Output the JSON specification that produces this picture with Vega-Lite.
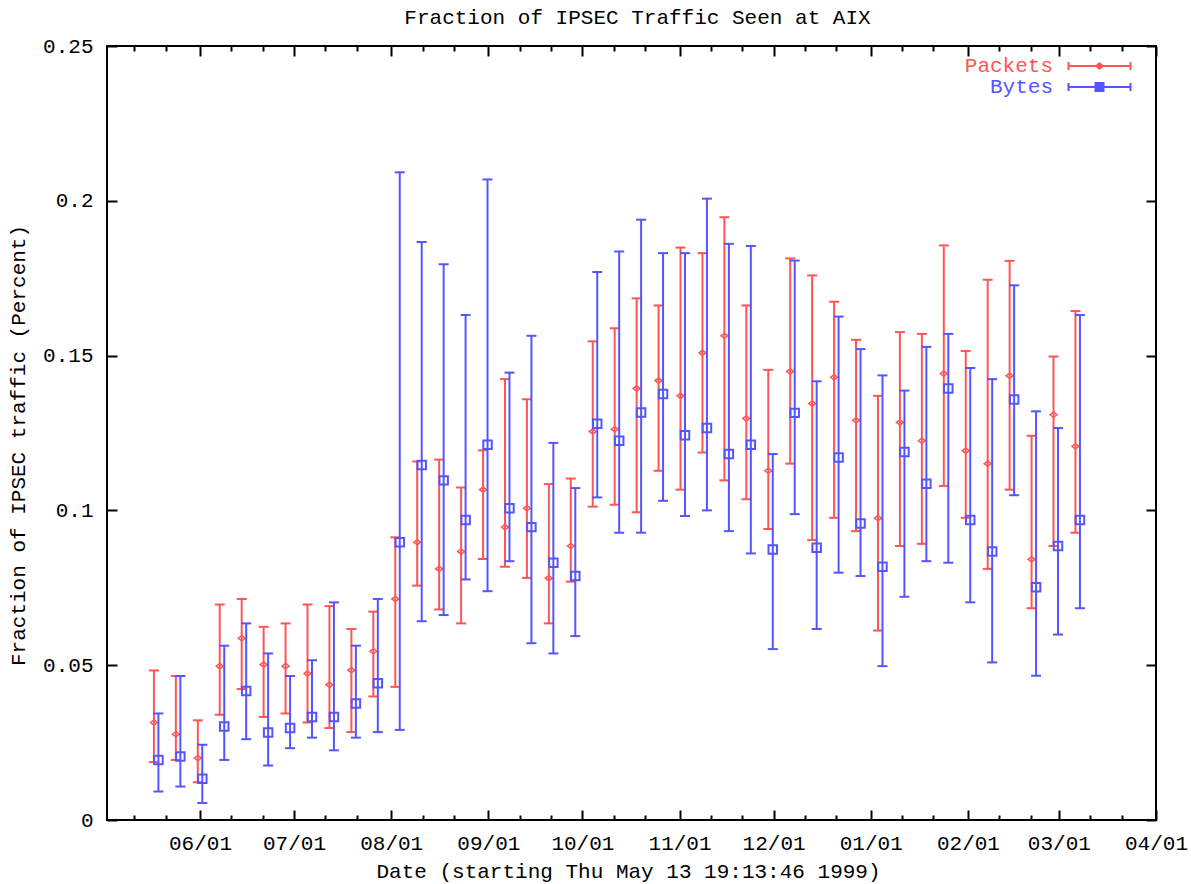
{
  "$schema": "https://vega.github.io/schema/vega-lite/v6.json",
  "width": 1049,
  "height": 774,
  "autosize": {"type": "none"},
  "padding": {"left": 107, "top": 46, "right": 35, "bottom": 64},
  "background": "white",
  "title": {
    "text": "Fraction of IPSEC Traffic Seen at AIX",
    "anchor": "middle",
    "frame": "group",
    "offset": 24,
    "baseline": "alphabetic",
    "dx": 6,
    "dy": 34
  },
  "config": {
    "font": "Liberation Mono",
    "view": {"stroke": "black", "strokeWidth": 2},
    "axis": {
      "domain": false,
      "grid": false,
      "tickColor": "black",
      "tickWidth": 2,
      "labelFont": "Liberation Mono",
      "labelFontSize": 21,
      "labelColor": "black",
      "titleFont": "Liberation Mono",
      "titleFontSize": 21,
      "titleFontWeight": "normal",
      "titleColor": "black"
    },
    "title": {"font": "Liberation Mono", "fontSize": 21, "fontWeight": "normal", "color": "black"}
  },
  "data": {
    "values": [
      {"week": "1999-05-17T07:13", "series": "Packets", "value": 0.0315, "lo": 0.0187, "hi": 0.0483},
      {"week": "1999-05-24T07:13", "series": "Packets", "value": 0.0277, "lo": 0.0194, "hi": 0.0465},
      {"week": "1999-05-31T07:13", "series": "Packets", "value": 0.0200, "lo": 0.0122, "hi": 0.0322},
      {"week": "1999-06-07T07:13", "series": "Packets", "value": 0.0497, "lo": 0.0340, "hi": 0.0696},
      {"week": "1999-06-14T07:13", "series": "Packets", "value": 0.0587, "lo": 0.0423, "hi": 0.0714},
      {"week": "1999-06-21T07:13", "series": "Packets", "value": 0.0502, "lo": 0.0333, "hi": 0.0624},
      {"week": "1999-06-28T07:13", "series": "Packets", "value": 0.0497, "lo": 0.0344, "hi": 0.0635},
      {"week": "1999-07-05T07:13", "series": "Packets", "value": 0.0473, "lo": 0.0315, "hi": 0.0696},
      {"week": "1999-07-12T07:13", "series": "Packets", "value": 0.0437, "lo": 0.0297, "hi": 0.0691},
      {"week": "1999-07-19T07:13", "series": "Packets", "value": 0.0484, "lo": 0.0284, "hi": 0.0617},
      {"week": "1999-07-26T07:13", "series": "Packets", "value": 0.0545, "lo": 0.0399, "hi": 0.0673},
      {"week": "1999-08-02T07:13", "series": "Packets", "value": 0.0714, "lo": 0.0430, "hi": 0.0913},
      {"week": "1999-08-09T07:13", "series": "Packets", "value": 0.0897, "lo": 0.0757, "hi": 0.1158},
      {"week": "1999-08-16T07:13", "series": "Packets", "value": 0.0811, "lo": 0.0680, "hi": 0.1164},
      {"week": "1999-08-23T07:13", "series": "Packets", "value": 0.0867, "lo": 0.0635, "hi": 0.1074},
      {"week": "1999-08-30T07:13", "series": "Packets", "value": 0.1067, "lo": 0.0843, "hi": 0.1194},
      {"week": "1999-09-06T07:13", "series": "Packets", "value": 0.0946, "lo": 0.0818, "hi": 0.1424},
      {"week": "1999-09-13T07:13", "series": "Packets", "value": 0.1007, "lo": 0.0782, "hi": 0.1359},
      {"week": "1999-09-20T07:13", "series": "Packets", "value": 0.0781, "lo": 0.0635, "hi": 0.1085},
      {"week": "1999-09-27T07:13", "series": "Packets", "value": 0.0885, "lo": 0.0770, "hi": 0.1103},
      {"week": "1999-10-04T07:13", "series": "Packets", "value": 0.1255, "lo": 0.1012, "hi": 0.1546},
      {"week": "1999-10-11T07:13", "series": "Packets", "value": 0.1262, "lo": 0.1018, "hi": 0.1588},
      {"week": "1999-10-18T07:13", "series": "Packets", "value": 0.1394, "lo": 0.0994, "hi": 0.1685},
      {"week": "1999-10-25T07:13", "series": "Packets", "value": 0.1419, "lo": 0.1128, "hi": 0.1662},
      {"week": "1999-11-01T07:13", "series": "Packets", "value": 0.1370, "lo": 0.1067, "hi": 0.1849},
      {"week": "1999-11-08T07:13", "series": "Packets", "value": 0.1509, "lo": 0.1187, "hi": 0.1831},
      {"week": "1999-11-15T07:13", "series": "Packets", "value": 0.1564, "lo": 0.1097, "hi": 0.1947},
      {"week": "1999-11-22T07:13", "series": "Packets", "value": 0.1297, "lo": 0.1036, "hi": 0.1662},
      {"week": "1999-11-29T07:13", "series": "Packets", "value": 0.1128, "lo": 0.0940, "hi": 0.1454},
      {"week": "1999-12-06T07:13", "series": "Packets", "value": 0.1449, "lo": 0.1151, "hi": 0.1814},
      {"week": "1999-12-13T07:13", "series": "Packets", "value": 0.1345, "lo": 0.0904, "hi": 0.1759},
      {"week": "1999-12-20T07:13", "series": "Packets", "value": 0.1430, "lo": 0.0976, "hi": 0.1674},
      {"week": "1999-12-27T07:13", "series": "Packets", "value": 0.1291, "lo": 0.0933, "hi": 0.1551},
      {"week": "2000-01-03T07:13", "series": "Packets", "value": 0.0975, "lo": 0.0612, "hi": 0.1370},
      {"week": "2000-01-10T07:13", "series": "Packets", "value": 0.1284, "lo": 0.0885, "hi": 0.1576},
      {"week": "2000-01-17T07:13", "series": "Packets", "value": 0.1225, "lo": 0.0892, "hi": 0.1570},
      {"week": "2000-01-24T07:13", "series": "Packets", "value": 0.1442, "lo": 0.1079, "hi": 0.1856},
      {"week": "2000-01-31T07:13", "series": "Packets", "value": 0.1193, "lo": 0.0976, "hi": 0.1515},
      {"week": "2000-02-07T07:13", "series": "Packets", "value": 0.1151, "lo": 0.0811, "hi": 0.1745},
      {"week": "2000-02-14T07:13", "series": "Packets", "value": 0.1435, "lo": 0.1067, "hi": 0.1806},
      {"week": "2000-02-21T07:13", "series": "Packets", "value": 0.0842, "lo": 0.0684, "hi": 0.1241},
      {"week": "2000-02-28T07:13", "series": "Packets", "value": 0.1309, "lo": 0.0885, "hi": 0.1497},
      {"week": "2000-03-06T07:13", "series": "Packets", "value": 0.1207, "lo": 0.0928, "hi": 0.1644},
      {"week": "1999-05-17T07:13", "series": "Bytes", "value": 0.0194, "lo": 0.0092, "hi": 0.0344},
      {"week": "1999-05-24T07:13", "series": "Bytes", "value": 0.0205, "lo": 0.0108, "hi": 0.0465},
      {"week": "1999-05-31T07:13", "series": "Bytes", "value": 0.0133, "lo": 0.0055, "hi": 0.0243},
      {"week": "1999-06-07T07:13", "series": "Bytes", "value": 0.0302, "lo": 0.0194, "hi": 0.0563},
      {"week": "1999-06-14T07:13", "series": "Bytes", "value": 0.0417, "lo": 0.0261, "hi": 0.0635},
      {"week": "1999-06-21T07:13", "series": "Bytes", "value": 0.0283, "lo": 0.0176, "hi": 0.0538},
      {"week": "1999-06-28T07:13", "series": "Bytes", "value": 0.0297, "lo": 0.0232, "hi": 0.0465},
      {"week": "1999-07-05T07:13", "series": "Bytes", "value": 0.0333, "lo": 0.0266, "hi": 0.0516},
      {"week": "1999-07-12T07:13", "series": "Bytes", "value": 0.0333, "lo": 0.0225, "hi": 0.0703},
      {"week": "1999-07-19T07:13", "series": "Bytes", "value": 0.0376, "lo": 0.0266, "hi": 0.0563},
      {"week": "1999-07-26T07:13", "series": "Bytes", "value": 0.0442, "lo": 0.0284, "hi": 0.0714},
      {"week": "1999-08-02T07:13", "series": "Bytes", "value": 0.0897, "lo": 0.0291, "hi": 0.2092},
      {"week": "1999-08-09T07:13", "series": "Bytes", "value": 0.1147, "lo": 0.0642, "hi": 0.1867},
      {"week": "1999-08-16T07:13", "series": "Bytes", "value": 0.1097, "lo": 0.0662, "hi": 0.1795},
      {"week": "1999-08-23T07:13", "series": "Bytes", "value": 0.0969, "lo": 0.0777, "hi": 0.1631},
      {"week": "1999-08-30T07:13", "series": "Bytes", "value": 0.1212, "lo": 0.0739, "hi": 0.2069},
      {"week": "1999-09-06T07:13", "series": "Bytes", "value": 0.1007, "lo": 0.0836, "hi": 0.1445},
      {"week": "1999-09-13T07:13", "series": "Bytes", "value": 0.0946, "lo": 0.0571, "hi": 0.1564},
      {"week": "1999-09-20T07:13", "series": "Bytes", "value": 0.0831, "lo": 0.0538, "hi": 0.1218},
      {"week": "1999-09-27T07:13", "series": "Bytes", "value": 0.0788, "lo": 0.0594, "hi": 0.1072},
      {"week": "1999-10-04T07:13", "series": "Bytes", "value": 0.1280, "lo": 0.1042, "hi": 0.1770},
      {"week": "1999-10-11T07:13", "series": "Bytes", "value": 0.1225, "lo": 0.0928, "hi": 0.1836},
      {"week": "1999-10-18T07:13", "series": "Bytes", "value": 0.1316, "lo": 0.0928, "hi": 0.1939},
      {"week": "1999-10-25T07:13", "series": "Bytes", "value": 0.1376, "lo": 0.1031, "hi": 0.1831},
      {"week": "1999-11-01T07:13", "series": "Bytes", "value": 0.1243, "lo": 0.0982, "hi": 0.1831},
      {"week": "1999-11-08T07:13", "series": "Bytes", "value": 0.1266, "lo": 0.1000, "hi": 0.2007},
      {"week": "1999-11-15T07:13", "series": "Bytes", "value": 0.1182, "lo": 0.0933, "hi": 0.1861},
      {"week": "1999-11-22T07:13", "series": "Bytes", "value": 0.1212, "lo": 0.0861, "hi": 0.1854},
      {"week": "1999-11-29T07:13", "series": "Bytes", "value": 0.0874, "lo": 0.0552, "hi": 0.1182},
      {"week": "1999-12-06T07:13", "series": "Bytes", "value": 0.1315, "lo": 0.0988, "hi": 0.1807},
      {"week": "1999-12-13T07:13", "series": "Bytes", "value": 0.0879, "lo": 0.0617, "hi": 0.1417},
      {"week": "1999-12-20T07:13", "series": "Bytes", "value": 0.1171, "lo": 0.0799, "hi": 0.1626},
      {"week": "1999-12-27T07:13", "series": "Bytes", "value": 0.0958, "lo": 0.0788, "hi": 0.1521},
      {"week": "2000-01-03T07:13", "series": "Bytes", "value": 0.0818, "lo": 0.0497, "hi": 0.1436},
      {"week": "2000-01-10T07:13", "series": "Bytes", "value": 0.1189, "lo": 0.0721, "hi": 0.1387},
      {"week": "2000-01-17T07:13", "series": "Bytes", "value": 0.1086, "lo": 0.0836, "hi": 0.1528},
      {"week": "2000-01-24T07:13", "series": "Bytes", "value": 0.1394, "lo": 0.0831, "hi": 0.1570},
      {"week": "2000-01-31T07:13", "series": "Bytes", "value": 0.0969, "lo": 0.0703, "hi": 0.1460},
      {"week": "2000-02-07T07:13", "series": "Bytes", "value": 0.0867, "lo": 0.0509, "hi": 0.1424},
      {"week": "2000-02-14T07:13", "series": "Bytes", "value": 0.1358, "lo": 0.1049, "hi": 0.1727},
      {"week": "2000-02-21T07:13", "series": "Bytes", "value": 0.0752, "lo": 0.0466, "hi": 0.1320},
      {"week": "2000-02-28T07:13", "series": "Bytes", "value": 0.0885, "lo": 0.0599, "hi": 0.1266},
      {"week": "2000-03-06T07:13", "series": "Bytes", "value": 0.0969, "lo": 0.0684, "hi": 0.1631}
    ]
  },
  "layer": [
    {
      "transform": [{"filter": "datum.series === 'Packets'"}],
      "mark": {"type": "rule", "strokeWidth": 2},
      "encoding": {
        "x": {
          "field": "week",
          "type": "temporal",
          "scale": {"domain": [{"year": 1999, "month": 5, "date": 2, "hours": 8}, {"year": 2000, "month": 4, "date": 1}]},
          "axis": {
            "orient": "bottom",
            "values": [
              {"year": 1999, "month": 6, "date": 1}, {"year": 1999, "month": 7, "date": 1},
              {"year": 1999, "month": 8, "date": 1}, {"year": 1999, "month": 9, "date": 1},
              {"year": 1999, "month": 10, "date": 1}, {"year": 1999, "month": 11, "date": 1},
              {"year": 1999, "month": 12, "date": 1}, {"year": 2000, "month": 1, "date": 1},
              {"year": 2000, "month": 2, "date": 1}, {"year": 2000, "month": 3, "date": 1},
              {"year": 2000, "month": 4, "date": 1}
            ],
            "format": "%m/%d",
            "tickSize": -10,
            "labelPadding": 22,
            "labelFlush": false,
            "labelOverlap": false,
            "title": "Date (starting Thu May 13 19:13:46 1999)",
            "titleX": 521,
            "titleY": 57,
            "titleBaseline": "alphabetic"
          }
        },
        "y": {
          "field": "lo",
          "type": "quantitative",
          "scale": {"domain": [0, 0.25], "nice": false},
          "axis": {
            "orient": "left",
            "values": [0, 0.05, 0.1, 0.15, 0.2, 0.25],
            "format": "~g",
            "tickSize": -10,
            "labelPadding": 24,
            "title": "Fraction of IPSEC traffic (Percent)",
            "titleAngle": 270,
            "titleX": -83,
            "titleY": 399,
            "titleAlign": "center",
            "titleBaseline": "alphabetic"
          }
        },
        "y2": {"field": "hi"},
        "color": {
          "field": "series",
          "type": "nominal",
          "scale": {"domain": ["Packets", "Bytes"], "range": ["#ff5555", "#5555ff"]},
          "legend": {
            "title": null,
            "orient": "none",
            "legendX": 982,
            "legendY": 9.5,
            "direction": "vertical",
            "padding": 0,
            "rowPadding": -3,
            "symbolSize": 100,
            "symbolStrokeWidth": 2,
            "labelFont": "Liberation Mono",
            "labelFontSize": 21,
            "labelAlign": "right",
            "labelOffset": -57,
            "labelLimit": 0,
            "encode": {
              "symbols": {
                "update": {
                  "shape": {"signal": "datum.value === 'Packets' ? 'M-6.2,0H-0.65M0.65,0H6.2M-6.2,-0.8V0.8M6.2,-0.8V0.8M0,-0.55L0.65,0L0,0.55L-0.65,0Z' : 'M-6.2,0H-0.8M0.8,0H6.2M-6.2,-0.8V0.8M6.2,-0.8V0.8M-0.8,-0.8H0.8V0.8H-0.8Z'"},
                  "fill": {"value": "transparent"},
                  "stroke": {"scale": "color", "field": "value"},
                  "strokeWidth": {"value": 2},
                  "opacity": {"value": 1}
                }
              },
              "labels": {
                "update": {"fill": {"scale": "color", "field": "value"}}
              }
            }
          }
        }
      }
    },
    {
      "transform": [{"filter": "datum.series === 'Packets'"}],
      "mark": {"type": "tick", "orient": "horizontal", "size": 10, "thickness": 2, "opacity": 1},
      "encoding": {
        "x": {
          "field": "week",
          "type": "temporal",
          "axis": {
            "orient": "bottom",
            "values": [
              {"year": 1999, "month": 5, "date": 11}, {"year": 1999, "month": 5, "date": 21},
              {"year": 1999, "month": 6, "date": 11}, {"year": 1999, "month": 6, "date": 21},
              {"year": 1999, "month": 7, "date": 11}, {"year": 1999, "month": 7, "date": 21},
              {"year": 1999, "month": 8, "date": 11}, {"year": 1999, "month": 8, "date": 21},
              {"year": 1999, "month": 9, "date": 11}, {"year": 1999, "month": 9, "date": 21},
              {"year": 1999, "month": 10, "date": 11}, {"year": 1999, "month": 10, "date": 21},
              {"year": 1999, "month": 11, "date": 11}, {"year": 1999, "month": 11, "date": 21},
              {"year": 1999, "month": 12, "date": 11}, {"year": 1999, "month": 12, "date": 21},
              {"year": 2000, "month": 1, "date": 11}, {"year": 2000, "month": 1, "date": 21},
              {"year": 2000, "month": 2, "date": 11}, {"year": 2000, "month": 2, "date": 21},
              {"year": 2000, "month": 3, "date": 11}, {"year": 2000, "month": 3, "date": 21}
            ],
            "tickSize": -5,
            "labels": false,
            "title": null
          }
        },
        "y": {
          "field": "lo",
          "type": "quantitative",
          "axis": {
            "orient": "right",
            "values": [0, 0.05, 0.1, 0.15, 0.2, 0.25],
            "tickSize": -10,
            "labels": false,
            "title": null
          }
        },
        "color": {"field": "series", "type": "nominal"}
      }
    },
    {
      "transform": [{"filter": "datum.series === 'Packets'"}],
      "mark": {"type": "tick", "orient": "horizontal", "size": 10, "thickness": 2, "opacity": 1},
      "encoding": {
        "x": {
          "field": "week",
          "type": "temporal",
          "axis": {
            "orient": "top",
            "values": [
              {"year": 1999, "month": 6, "date": 1}, {"year": 1999, "month": 7, "date": 1},
              {"year": 1999, "month": 8, "date": 1}, {"year": 1999, "month": 9, "date": 1},
              {"year": 1999, "month": 10, "date": 1}, {"year": 1999, "month": 11, "date": 1},
              {"year": 1999, "month": 12, "date": 1}, {"year": 2000, "month": 1, "date": 1},
              {"year": 2000, "month": 2, "date": 1}, {"year": 2000, "month": 3, "date": 1},
              {"year": 2000, "month": 4, "date": 1}
            ],
            "tickSize": -10,
            "labels": false,
            "title": null
          }
        },
        "y": {"field": "hi", "type": "quantitative", "axis": null},
        "color": {"field": "series", "type": "nominal"}
      }
    },
    {
      "transform": [{"filter": "datum.series === 'Packets'"}],
      "mark": {"type": "point", "shape": "M-1,0L0,-0.75L1,0L0,0.75Z", "size": 49, "filled": false, "fill": "transparent", "strokeWidth": 1.5, "opacity": 1},
      "encoding": {
        "x": {
          "field": "week",
          "type": "temporal",
          "axis": {
            "orient": "top",
            "values": [
              {"year": 1999, "month": 5, "date": 11}, {"year": 1999, "month": 5, "date": 21},
              {"year": 1999, "month": 6, "date": 11}, {"year": 1999, "month": 6, "date": 21},
              {"year": 1999, "month": 7, "date": 11}, {"year": 1999, "month": 7, "date": 21},
              {"year": 1999, "month": 8, "date": 11}, {"year": 1999, "month": 8, "date": 21},
              {"year": 1999, "month": 9, "date": 11}, {"year": 1999, "month": 9, "date": 21},
              {"year": 1999, "month": 10, "date": 11}, {"year": 1999, "month": 10, "date": 21},
              {"year": 1999, "month": 11, "date": 11}, {"year": 1999, "month": 11, "date": 21},
              {"year": 1999, "month": 12, "date": 11}, {"year": 1999, "month": 12, "date": 21},
              {"year": 2000, "month": 1, "date": 11}, {"year": 2000, "month": 1, "date": 21},
              {"year": 2000, "month": 2, "date": 11}, {"year": 2000, "month": 2, "date": 21},
              {"year": 2000, "month": 3, "date": 11}, {"year": 2000, "month": 3, "date": 21}
            ],
            "tickSize": -5,
            "labels": false,
            "title": null
          }
        },
        "y": {"field": "value", "type": "quantitative", "axis": null},
        "color": {"field": "series", "type": "nominal"}
      }
    },
    {
      "transform": [{"filter": "datum.series === 'Bytes'"}],
      "mark": {"type": "rule", "strokeWidth": 2, "xOffset": 4.5},
      "encoding": {
        "x": {"field": "week", "type": "temporal", "axis": null},
        "y": {"field": "lo", "type": "quantitative", "axis": null},
        "y2": {"field": "hi"},
        "color": {"field": "series", "type": "nominal"}
      }
    },
    {
      "transform": [{"filter": "datum.series === 'Bytes'"}],
      "mark": {"type": "tick", "orient": "horizontal", "size": 10, "thickness": 2, "opacity": 1, "xOffset": 4.5},
      "encoding": {
        "x": {"field": "week", "type": "temporal", "axis": null},
        "y": {"field": "lo", "type": "quantitative", "axis": null},
        "color": {"field": "series", "type": "nominal"}
      }
    },
    {
      "transform": [{"filter": "datum.series === 'Bytes'"}],
      "mark": {"type": "tick", "orient": "horizontal", "size": 10, "thickness": 2, "opacity": 1, "xOffset": 4.5},
      "encoding": {
        "x": {"field": "week", "type": "temporal", "axis": null},
        "y": {"field": "hi", "type": "quantitative", "axis": null},
        "color": {"field": "series", "type": "nominal"}
      }
    },
    {
      "transform": [{"filter": "datum.series === 'Bytes'"}],
      "mark": {"type": "point", "shape": "square", "size": 72, "filled": false, "fill": "transparent", "strokeWidth": 2, "opacity": 1, "xOffset": 4.5},
      "encoding": {
        "x": {"field": "week", "type": "temporal", "axis": null},
        "y": {"field": "value", "type": "quantitative", "axis": null},
        "color": {"field": "series", "type": "nominal"}
      }
    }
  ],
  "resolve": {"axis": {"x": "independent", "y": "independent"}}
}
